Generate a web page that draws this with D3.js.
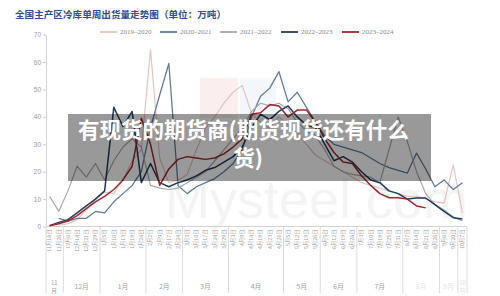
<!DOCTYPE html>
<html>
<head>
<meta charset="utf-8">
<script src="https://cdn.jsdelivr.net/npm/d3@7"></script>
<style>
  html, body { margin: 0; padding: 0; background: #fff; }
  svg { display: block; }
</style>
</head>
<body>
<div id="chart"></div>
<script>
// weekly dates on the category axis
const dates = [
  "11月18日", "11月26日",
  "12月6日", "12月14日", "12月21日", "12月29日",
  "1月5日", "1月10日", "1月13日", "1月19日", "1月26日",
  "2月2日", "2月9日", "2月17日", "2月24日",
  "3月3日", "3月10日", "3月17日", "3月24日", "3月29日",
  "4月3日", "4月9日", "4月14日", "4月19日", "4月23日", "4月28日",
  "5月5日", "5月12日", "5月19日", "5月26日",
  "6月5日", "6月12日", "6月19日", "6月26日",
  "7月3日", "7月10日", "7月19日", "7月25日", "7月31日",
  "8月7日", "8月14日", "8月21日", "8月26日",
  "9月6日", "9月20日",
  "10月7日"
];

const seasons = ["2019–2020", "2020–2021", "2021–2022", "2022–2023", "2023–2024"];

// values in 万吨
const s2019 = [null, 0.5, 1, 2.5, 6, 10, 12.5, 12, 17, 24, 28, 64.5, 25, 16, 17, 19, 28, 36, 40, 45,
  49, 51.5, 41.5, 38, 36, 40, 37, 34, 30, 26, 24, 22, 20, 18, 16, 15, 14, 13, 12, 11, 11, 10, 9, 8.5, 22.5, 5];
const s2020 = [null, 3, 2, 3, 3, 5.5, 5, 9, 12, 15, 20, 36, 48, 59.5, 15, 12, 14.5, 16, 17.5, 20,
  23, 28, 40, 47.5, 50.5, 56.5, 45.5, 49, 43.5, 38, 33, 30, 29, 28, 27, 25, 23, 21.5, 20.5, 19.5, 26.8, 21, 14.5, 17, 13.5, 16];
const s2021 = [11, 5.5, 13, 22, 18, 23, 17, 24, 29, 32, 29, 15, 14, 13.5, 14, 16, 18, 20, 24, 28,
  32, 36, 42, 45, 44, 45, 43, 38, 35, 33, 28, 22, 20, 19, 18.5, 18, 16, 28, 40, 31, 20, 12, 8, 6, 3.5, 2];
const s2022 = [0.3, 1.5, 2.5, 5, 7.5, 10, 13, 43.5, 36.5, 42, 16, 23, 16, 14.5, 16, 17, 18.5, 20.5, 21.5, 23.5,
  25.5, 29, 36, 41, 39, 42, 44, 40, 37, 36, 30, 24, 25.5, 23.5, 20, 17, 16, 13, 12, 10, 10.4, 10.4, 8, 5.5, 3.2, 2.7];
const s2023 = [0.3, 1, 2, 4, 6.5, 9, 11, 13.5, 17, 22, 39.5, 30, 15, 21, 24.5, 25.5, 25, 24.5, 25, 26.5,
  29, 32, 41, 41.5, 44.5, 44, 40, 42.5, 42.5, 38, 32, 27, 23.5, 23, 18.5, 15, 12, 10.5, 10.5, 10, 7.5, 6.8, null, null, null, null];

const yTicks = [0, 10, 20, 30, 40, 50, 60, 70];

const series = [s2019, s2020, s2021, s2022, s2023];
const colors = ["#e6c3bf", "#627c9c", "#a9a9a9", "#1f3b5e", "#a2262d"];
const widths = [1.2, 1.3, 1.2, 1.5, 1.5];

const W = 500, H = 296;
const svg = d3.select("#chart").append("svg")
  .attr("width", W)
  .attr("height", H);

const x = d3.scaleBand()
  .domain(d3.range(dates.length))
  .range([45, 467]);
const y = d3.scaleLinear()
  .domain([0, 70])
  .range([226.5, 34.7]);
const cx = i => x(i) + x.bandwidth() / 2;

// watermark behind everything
const wm = svg.append("g").attr("class", "watermark");
wm.append("rect").attr("x", 200).attr("y", 78).attr("width", 38).attr("height", 40)
  .attr("fill", "#c0392b").attr("opacity", 0.08);
wm.append("rect").attr("x", 240).attr("y", 78).attr("width", 36).attr("height", 40)
  .attr("fill", "#2e6fb5").attr("opacity", 0.06);
wm.append("text")
  .attr("x", 165).attr("y", 218)
  .attr("font-family", "Liberation Sans, Arial, sans-serif")
  .attr("font-size", 54)
  .attr("fill", "#000")
  .attr("opacity", 0.04)
  .text("Mysteel.com");

// title
svg.append("text")
  .attr("x", 15).attr("y", 17.5)
  .attr("font-family", "Noto Sans CJK SC, sans-serif")
  .attr("font-weight", 700)
  .attr("font-size", 9.6)
  .attr("fill", "#2c4c9c")
  .text("全国主产区冷库单周出货量走势图（单位：万吨）");

// legend
const legendPos = [100, 160, 220, 281, 342];
const legend = svg.append("g").attr("class", "legend");
seasons.forEach((s, k) => {
  const lx = legendPos[k];
  legend.append("line")
    .attr("x1", lx).attr("x2", lx + 17)
    .attr("y1", 32).attr("y2", 32)
    .attr("stroke", colors[k])
    .attr("stroke-width", 1.8);
  legend.append("text")
    .attr("x", lx + 20).attr("y", 34.4)
    .attr("font-family", "Liberation Serif, serif")
    .attr("font-size", 7)
    .attr("fill", "#8a8a8a")
    .text(s);
});

// y axis
const yAxis = svg.append("g")
  .attr("transform", "translate(46,0)")
  .call(d3.axisLeft(y).tickValues(yTicks).tickSize(3).tickSizeOuter(0).tickPadding(2));
yAxis.select(".domain").attr("stroke", "#d4d4d4");
yAxis.selectAll(".tick line").attr("stroke", "#cfcfcf");
yAxis.selectAll(".tick text")
  .attr("font-family", "Liberation Sans, Arial, sans-serif")
  .attr("font-size", 6.5)
  .attr("fill", "#9a9a9a");

// x axis: baseline, month separators, date and month labels
const xa = svg.append("g").attr("class", "x-axis");
xa.append("line")
  .attr("x1", 46).attr("x2", 467)
  .attr("y1", y(0)).attr("y2", y(0))
  .attr("stroke", "#d4d4d4");

const months = [];
dates.forEach((d, i) => {
  const m = d.slice(0, d.indexOf("月") + 1);
  if (!months.length || months[months.length - 1].name !== m) months.push({ name: m, start: i, end: i });
  else months[months.length - 1].end = i;
});

const sepX = [46].concat(months.map(m => x(m.end) + x.bandwidth()));
xa.selectAll("line.sep")
  .data(sepX)
  .enter().append("line")
  .attr("class", "sep")
  .attr("x1", d => d).attr("x2", d => d)
  .attr("y1", y(0)).attr("y2", 293)
  .attr("stroke", "#dcdcdc");

xa.selectAll("text.date")
  .data(dates)
  .enter().append("text")
  .attr("class", "date")
  .attr("transform", (d, i) => `translate(${cx(i)},229.5) rotate(-90)`)
  .attr("text-anchor", "end")
  .attr("dy", "0.35em")
  .attr("font-family", "Noto Sans CJK SC, sans-serif")
  .attr("font-size", 5.3)
  .attr("fill", "#a0a0a0")
  .text(d => d);

months.forEach((m, k) => {
  const mx = (x(m.start) + x(m.end) + x.bandwidth()) / 2;
  const faint = k >= 9; // last months are blurred out in the source
  const fill = faint ? "#e4e4e4" : "#a0a0a0";
  const narrow = m.name.length > 2 && m.end - m.start < 2;
  if (narrow) {
    // "11月" / "10月" do not fit on one line: number above, 月 below
    [[m.name.replace("月", ""), 284.5], ["月", 293]].forEach(([txt, ty]) => {
      xa.append("text")
        .attr("x", mx).attr("y", ty)
        .attr("text-anchor", "middle")
        .attr("font-family", "Noto Sans CJK SC, sans-serif")
        .attr("font-size", 5.8)
        .attr("fill", fill)
        .text(txt);
    });
  } else {
    xa.append("text")
      .attr("x", mx).attr("y", 289)
      .attr("text-anchor", "middle")
      .attr("font-family", "Noto Sans CJK SC, sans-serif")
      .attr("font-size", 6.8)
      .attr("fill", fill)
      .text(m.name);
  }
});

// lines
const line = d3.line()
  .defined(d => d != null)
  .x((d, i) => cx(i))
  .y(d => y(d));

svg.append("g").attr("class", "lines")
  .selectAll("path")
  .data(series)
  .enter().append("path")
  .attr("d", d => line(d))
  .attr("fill", "none")
  .attr("stroke", (d, k) => colors[k])
  .attr("stroke-width", (d, k) => widths[k])
  .attr("stroke-linejoin", "round");

// overlay banner
const banner = svg.append("g").attr("class", "banner");
banner.append("rect")
  .attr("x", 68).attr("y", 114)
  .attr("width", 363).attr("height", 67)
  .attr("fill", "#000")
  .attr("opacity", 0.4);
banner.append("text")
  .attr("x", 78).attr("y", 138)
  .attr("font-family", "Noto Sans CJK SC, sans-serif")
  .attr("font-weight", 700)
  .attr("font-size", 21.5)
  .attr("fill", "#fff")
  .text("有现货的期货商(期货现货还有什么");
banner.append("text")
  .attr("x", 248).attr("y", 166)
  .attr("text-anchor", "middle")
  .attr("font-family", "Noto Sans CJK SC, sans-serif")
  .attr("font-weight", 700)
  .attr("font-size", 21.5)
  .attr("fill", "#fff")
  .text("货)");
</script>
</body>
</html>
